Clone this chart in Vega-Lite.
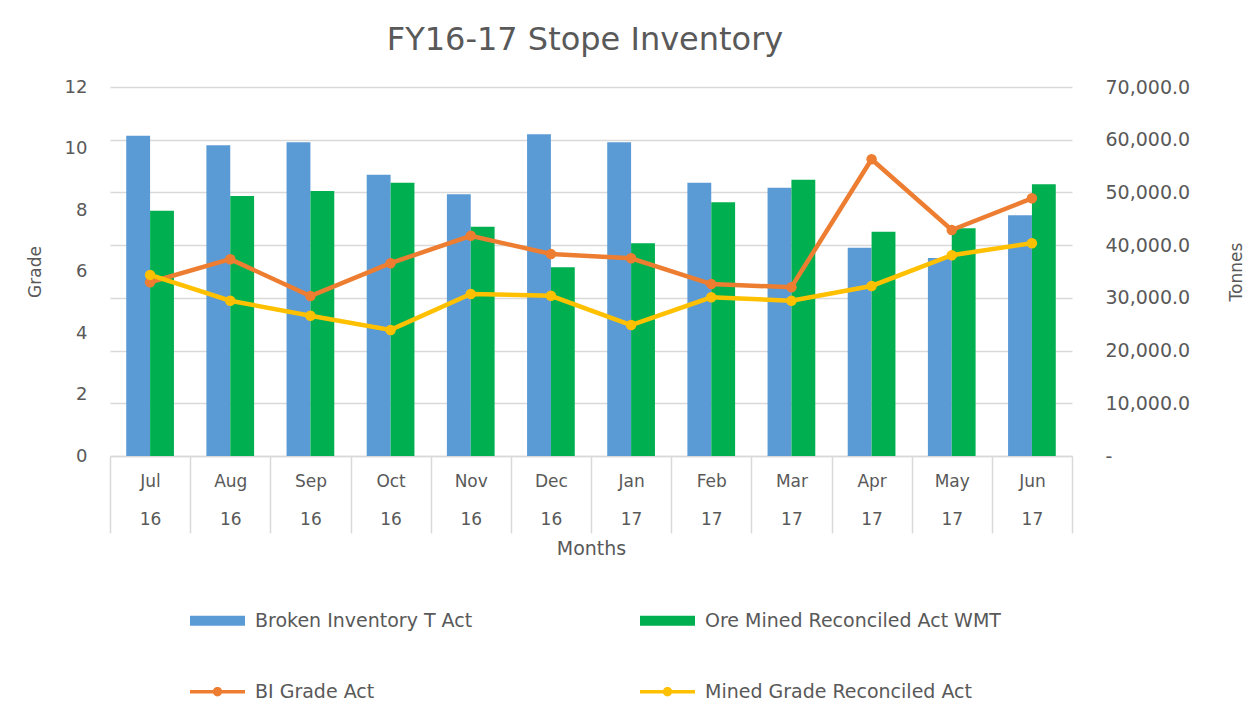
{
  "$schema": "https://vega.github.io/schema/vega-lite/v6.json",
  "width": 962,
  "height": 369,
  "autosize": {"type": "none"},
  "padding": {"left": 110, "top": 87, "right": 186, "bottom": 264},
  "background": "white",
  "config": {
    "font": "DejaVu Sans",
    "view": {"stroke": null}
  },
  "title": {
    "text": "FY16-17 Stope Inventory",
    "fontSize": 32,
    "font": "DejaVu Sans",
    "fontWeight": "normal",
    "color": "#595959",
    "anchor": "middle",
    "frame": "group",
    "offset": 21,
    "dx": -6
  },
  "datasets": {
    "bars": [
      {"month": "Jul 16", "series": "Broken Inventory T Act", "tonnes": 60760},
      {"month": "Jul 16", "series": "Ore Mined Reconciled Act WMT", "tonnes": 46530},
      {"month": "Aug 16", "series": "Broken Inventory T Act", "tonnes": 58940},
      {"month": "Aug 16", "series": "Ore Mined Reconciled Act WMT", "tonnes": 49320},
      {"month": "Sep 16", "series": "Broken Inventory T Act", "tonnes": 59510},
      {"month": "Sep 16", "series": "Ore Mined Reconciled Act WMT", "tonnes": 50270},
      {"month": "Oct 16", "series": "Broken Inventory T Act", "tonnes": 53360},
      {"month": "Oct 16", "series": "Ore Mined Reconciled Act WMT", "tonnes": 51850},
      {"month": "Nov 16", "series": "Broken Inventory T Act", "tonnes": 49650},
      {"month": "Nov 16", "series": "Ore Mined Reconciled Act WMT", "tonnes": 43500},
      {"month": "Dec 16", "series": "Broken Inventory T Act", "tonnes": 61030},
      {"month": "Dec 16", "series": "Ore Mined Reconciled Act WMT", "tonnes": 35800},
      {"month": "Jan 17", "series": "Broken Inventory T Act", "tonnes": 59510},
      {"month": "Jan 17", "series": "Ore Mined Reconciled Act WMT", "tonnes": 40350},
      {"month": "Feb 17", "series": "Broken Inventory T Act", "tonnes": 51850},
      {"month": "Feb 17", "series": "Ore Mined Reconciled Act WMT", "tonnes": 48120},
      {"month": "Mar 17", "series": "Broken Inventory T Act", "tonnes": 50900},
      {"month": "Mar 17", "series": "Ore Mined Reconciled Act WMT", "tonnes": 52420},
      {"month": "Apr 17", "series": "Broken Inventory T Act", "tonnes": 39520},
      {"month": "Apr 17", "series": "Ore Mined Reconciled Act WMT", "tonnes": 42550},
      {"month": "May 17", "series": "Broken Inventory T Act", "tonnes": 37560},
      {"month": "May 17", "series": "Ore Mined Reconciled Act WMT", "tonnes": 43190},
      {"month": "Jun 17", "series": "Broken Inventory T Act", "tonnes": 45660},
      {"month": "Jun 17", "series": "Ore Mined Reconciled Act WMT", "tonnes": 51540}
    ],
    "lines": [
      {"month": "Jul 16", "series": "BI Grade Act", "grade": 5.65},
      {"month": "Aug 16", "series": "BI Grade Act", "grade": 6.40},
      {"month": "Sep 16", "series": "BI Grade Act", "grade": 5.20},
      {"month": "Oct 16", "series": "BI Grade Act", "grade": 6.27},
      {"month": "Nov 16", "series": "BI Grade Act", "grade": 7.16},
      {"month": "Dec 16", "series": "BI Grade Act", "grade": 6.57},
      {"month": "Jan 17", "series": "BI Grade Act", "grade": 6.43},
      {"month": "Feb 17", "series": "BI Grade Act", "grade": 5.59},
      {"month": "Mar 17", "series": "BI Grade Act", "grade": 5.49},
      {"month": "Apr 17", "series": "BI Grade Act", "grade": 9.65},
      {"month": "May 17", "series": "BI Grade Act", "grade": 7.35},
      {"month": "Jun 17", "series": "BI Grade Act", "grade": 8.38},
      {"month": "Jul 16", "series": "Mined Grade Reconciled Act", "grade": 5.89},
      {"month": "Aug 16", "series": "Mined Grade Reconciled Act", "grade": 5.05},
      {"month": "Sep 16", "series": "Mined Grade Reconciled Act", "grade": 4.56},
      {"month": "Oct 16", "series": "Mined Grade Reconciled Act", "grade": 4.10},
      {"month": "Nov 16", "series": "Mined Grade Reconciled Act", "grade": 5.27},
      {"month": "Dec 16", "series": "Mined Grade Reconciled Act", "grade": 5.21},
      {"month": "Jan 17", "series": "Mined Grade Reconciled Act", "grade": 4.26},
      {"month": "Feb 17", "series": "Mined Grade Reconciled Act", "grade": 5.16},
      {"month": "Mar 17", "series": "Mined Grade Reconciled Act", "grade": 5.05},
      {"month": "Apr 17", "series": "Mined Grade Reconciled Act", "grade": 5.53},
      {"month": "May 17", "series": "Mined Grade Reconciled Act", "grade": 6.53},
      {"month": "Jun 17", "series": "Mined Grade Reconciled Act", "grade": 6.92}
    ]
  },
  "encoding": {
    "x": {
      "field": "month",
      "type": "nominal",
      "sort": ["Jul 16", "Aug 16", "Sep 16", "Oct 16", "Nov 16", "Dec 16", "Jan 17", "Feb 17", "Mar 17", "Apr 17", "May 17", "Jun 17"],
      "scale": {"paddingInner": 0, "paddingOuter": 0},
      "axis": {
        "title": "Months",
        "labelExpr": "split(datum.label, ' ')",
        "labelAngle": 0,
        "labelBaseline": "top",
        "labelLineHeight": 38,
        "labelFontSize": 17,
        "labelColor": "#595959",
        "labelPadding": -60,
        "tickBand": "extent",
        "tickSize": 77,
        "tickColor": "#d9d9d9",
        "tickWidth": 1.5,
        "domainColor": "#d9d9d9",
        "domainWidth": 1.5,
        "titleFontSize": 19,
        "titleFontWeight": "normal",
        "titleColor": "#595959",
        "titlePadding": 6
      }
    }
  },
  "layer": [
    {
      "data": {"name": "bars"},
      "mark": {"type": "bar"},
      "encoding": {
        "xOffset": {
          "field": "series",
          "type": "nominal",
          "sort": ["Broken Inventory T Act", "Ore Mined Reconciled Act WMT"],
          "scale": {"paddingInner": 0, "paddingOuter": 0.68}
        },
        "y": {
          "field": "tonnes",
          "type": "quantitative",
          "scale": {"domain": [0, 70000], "nice": false},
          "axis": {
            "orient": "right",
            "title": "Tonnes",
            "values": [0, 10000, 20000, 30000, 40000, 50000, 60000, 70000],
            "labelExpr": "datum.value == 0 ? '-' : format(datum.value, ',.1f')",
            "grid": true,
            "gridColor": "#d9d9d9",
            "gridWidth": 1.5,
            "domain": false,
            "ticks": false,
            "labelPadding": 33,
            "labelAlign": "left",
            "labelFontSize": 19,
            "labelColor": "#595959",
            "titleAngle": -90,
            "titleFontSize": 17,
            "titleFontWeight": "normal",
            "titleColor": "#595959",
            "titlePadding": 56
          }
        },
        "color": {
          "field": "series",
          "type": "nominal",
          "scale": {"domain": ["Broken Inventory T Act", "Ore Mined Reconciled Act WMT"], "range": ["#5B9BD5", "#00B050"]},
          "legend": {
            "title": null,
            "orient": "none",
            "legendX": 80,
            "legendY": 506,
            "direction": "horizontal",
            "columns": 2,
            "columnPadding": 167,
            "symbolType": "M-1,-0.18H1V0.18H-1Z",
            "symbolSize": 3025,
            "symbolStrokeWidth": 0,
            "labelFontSize": 19,
            "labelColor": "#595959",
            "labelOffset": 10,
            "labelLimit": 500
          }
        }
      }
    },
    {
      "data": {"name": "lines"},
      "layer": [
        {
          "transform": [{"filter": "datum.series == 'BI Grade Act'"}],
          "mark": {"type": "line", "strokeWidth": 4.5, "color": "#ED7D31"},
          "encoding": {
            "y": {
              "field": "grade",
              "type": "quantitative",
              "scale": {"domain": [0, 12], "nice": false},
              "axis": {
                "orient": "left",
                "title": "Grade",
                "values": [0, 2, 4, 6, 8, 10, 12],
                "grid": false,
                "domain": false,
                "ticks": false,
                "labelPadding": 23,
                "labelFontSize": 18,
                "labelColor": "#595959",
                "titleFontSize": 17,
                "titleFontWeight": "normal",
                "titleColor": "#595959",
                "titlePadding": 20
              }
            }
          }
        },
        {
          "transform": [{"filter": "datum.series == 'Mined Grade Reconciled Act'"}],
          "mark": {"type": "line", "strokeWidth": 4.5, "color": "#FFC000"},
          "encoding": {
            "y": {"field": "grade", "type": "quantitative"}
          }
        },
        {
          "mark": {"type": "point", "filled": true, "size": 110, "opacity": 1, "strokeWidth": 0},
          "encoding": {
            "y": {"field": "grade", "type": "quantitative"},
            "color": {
              "field": "series",
              "type": "nominal",
              "scale": {"domain": ["BI Grade Act", "Mined Grade Reconciled Act"], "range": ["#ED7D31", "#FFC000"]},
              "legend": {
                "title": null,
                "orient": "none",
                "legendX": 80,
                "legendY": 577,
                "direction": "horizontal",
                "columns": 2,
                "columnPadding": 265,
                "symbolType": "M-1,-0.065H1V0.065H-1Z M-0.17,0A0.17,0.17 0 1,1 0.17,0A0.17,0.17 0 1,1 -0.17,0Z",
                "symbolSize": 3025,
                "symbolStrokeWidth": 0,
                "symbolOpacity": 1,
                "labelFontSize": 19,
                "labelColor": "#595959",
                "labelOffset": 10,
                "labelLimit": 500
              }
            }
          }
        }
      ]
    }
  ],
  "resolve": {"scale": {"y": "independent", "color": "independent"}}
}
